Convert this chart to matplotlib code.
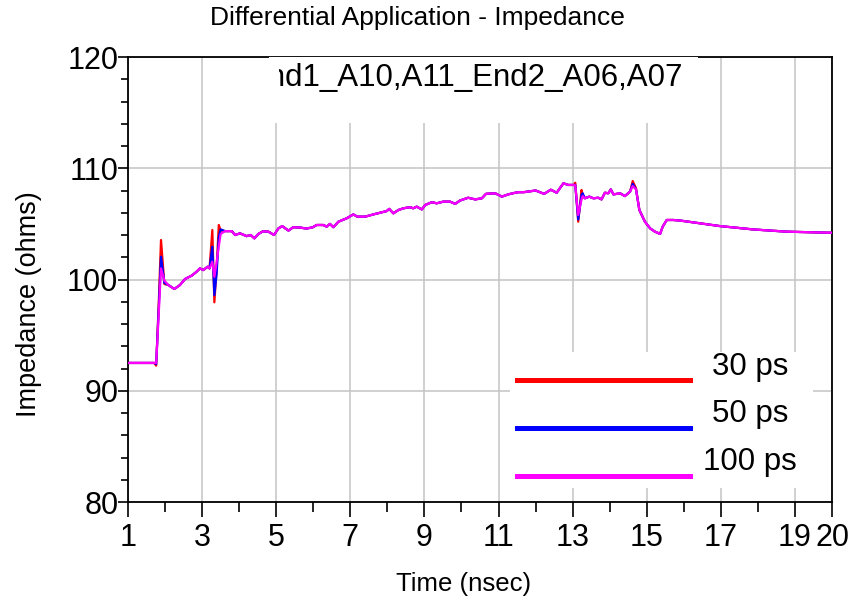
import matplotlib
matplotlib.use("Agg")
import matplotlib.pyplot as plt
from matplotlib.lines import Line2D
from matplotlib.patches import Rectangle
from matplotlib.transforms import Bbox, TransformedBbox
from matplotlib.ticker import MultipleLocator, FixedLocator

plt.rcParams['font.family'] = ['Liberation Sans', 'DejaVu Sans']

# time axis (nsec) shared by the three rise-time runs
t = [1.00, 1.71, 1.76, 1.83, 1.89, 1.98, 2.09, 2.25, 2.40, 2.54,
     2.72, 2.85, 2.94, 3.03, 3.15, 3.20, 3.275, 3.33, 3.39, 3.45,
     3.50, 3.62, 3.80, 3.89, 4.02, 4.20, 4.31, 4.41, 4.52, 4.64,
     4.79, 4.94, 5.06, 5.16, 5.33, 5.46, 5.64, 5.82, 5.99, 6.09,
     6.27, 6.36, 6.45, 6.54, 6.68, 6.90, 7.08, 7.19, 7.40, 7.62,
     7.80, 7.98, 8.05, 8.16, 8.30, 8.43, 8.61, 8.70, 8.79, 8.93,
     9.02, 9.20, 9.33, 9.51, 9.69, 9.83, 9.96, 10.18, 10.37, 10.55,
     10.66, 10.91, 11.09, 11.26, 11.41, 11.53, 11.68, 12.00, 12.23, 12.41,
     12.57, 12.75, 12.88, 13.04, 13.07, 13.15, 13.24, 13.27, 13.33, 13.45,
     13.56, 13.69, 13.78, 13.87, 13.96, 14.03, 14.10, 14.28, 14.41, 14.55,
     14.62, 14.71, 14.80, 14.95, 15.09, 15.22, 15.36, 15.43, 15.54, 15.72,
     15.90, 16.98, 17.88, 18.78, 20.00]

z_30ps = [92.5, 92.5, 92.25, 98.0, 103.55, 99.6, 99.5, 99.15, 99.5, 100.05,
          100.35, 100.7, 101.0, 100.85, 101.15, 101.0, 104.45, 97.95, 101.0, 104.9,
          104.4, 104.35, 104.35, 104.0, 104.15, 103.9, 104.0, 103.7, 104.1, 104.33,
          104.3, 104.0, 104.6, 104.8, 104.4, 104.7, 104.67, 104.58, 104.7, 104.9,
          104.9, 104.75, 105.0, 104.7, 105.2, 105.5, 105.85, 105.65, 105.65, 105.85,
          106.0, 106.15, 106.35, 105.95, 106.25, 106.4, 106.5, 106.4, 106.55, 106.3,
          106.7, 106.95, 106.85, 107.0, 107.0, 106.8, 107.1, 107.35, 107.2, 107.3,
          107.7, 107.75, 107.45, 107.65, 107.77, 107.85, 107.85, 108.0, 107.7, 108.07,
          107.8, 108.65, 108.5, 108.5, 108.7, 105.2, 108.05, 107.6, 107.3, 107.45,
          107.3, 107.35, 107.2, 107.8, 107.75, 108.1, 107.65, 107.75, 107.5, 107.9,
          108.85, 108.2, 106.25, 105.2, 104.6, 104.3, 104.1, 104.75, 105.35, 105.35,
          105.3, 104.8, 104.5, 104.3, 104.2]

z_50ps = [92.5, 92.5, 92.4, 97.5, 102.05, 99.7, 99.5, 99.15, 99.5, 100.05,
          100.35, 100.7, 101.0, 100.85, 101.15, 101.0, 102.95, 98.6, 100.5, 103.8,
          104.5, 104.35, 104.35, 104.0, 104.15, 103.9, 104.0, 103.7, 104.1, 104.33,
          104.3, 104.0, 104.6, 104.8, 104.4, 104.7, 104.67, 104.58, 104.7, 104.9,
          104.9, 104.75, 105.0, 104.7, 105.2, 105.5, 105.85, 105.65, 105.65, 105.85,
          106.0, 106.15, 106.35, 105.95, 106.25, 106.4, 106.5, 106.4, 106.55, 106.3,
          106.7, 106.95, 106.85, 107.0, 107.0, 106.8, 107.1, 107.35, 107.2, 107.3,
          107.7, 107.75, 107.45, 107.65, 107.77, 107.85, 107.85, 108.0, 107.7, 108.07,
          107.8, 108.65, 108.5, 108.5, 108.5, 105.4, 107.6, 107.75, 107.3, 107.45,
          107.3, 107.35, 107.2, 107.8, 107.75, 108.1, 107.65, 107.75, 107.5, 107.9,
          108.6, 108.1, 106.25, 105.2, 104.6, 104.3, 104.1, 104.75, 105.35, 105.35,
          105.3, 104.8, 104.5, 104.3, 104.2]

z_100ps = [92.5, 92.5, 92.5, 97.0, 101.0, 99.9, 99.5, 99.15, 99.5, 100.05,
           100.35, 100.7, 101.0, 100.85, 101.15, 101.0, 101.6, 100.25, 101.5, 103.0,
           104.1, 104.35, 104.35, 104.0, 104.15, 103.9, 104.0, 103.7, 104.1, 104.33,
           104.3, 104.0, 104.6, 104.8, 104.4, 104.7, 104.67, 104.58, 104.7, 104.9,
           104.9, 104.75, 105.0, 104.7, 105.2, 105.5, 105.85, 105.65, 105.65, 105.85,
           106.0, 106.15, 106.35, 105.95, 106.25, 106.4, 106.5, 106.4, 106.55, 106.3,
           106.7, 106.95, 106.85, 107.0, 107.0, 106.8, 107.1, 107.35, 107.2, 107.3,
           107.7, 107.75, 107.45, 107.65, 107.77, 107.85, 107.85, 108.0, 107.7, 108.07,
           107.8, 108.65, 108.5, 108.5, 108.45, 105.8, 107.2, 107.5, 107.3, 107.45,
           107.3, 107.35, 107.2, 107.8, 107.75, 108.1, 107.65, 107.75, 107.5, 107.9,
           108.4, 108.1, 106.25, 105.2, 104.6, 104.3, 104.1, 104.75, 105.35, 105.35,
           105.3, 104.8, 104.5, 104.3, 104.2]

labels = ['30 ps', '50 ps', '100 ps']
colors = ['#ff0000', '#0000ff', '#ff00ff']
x_ticks = [1, 3, 5, 7, 9, 11, 13, 15, 17, 19, 20]

fig = plt.figure(figsize=(8.49, 6.02), dpi=100)
ax = fig.add_axes([0.1508, 0.1661, 0.8292, 0.7392])

for z, c in zip([z_30ps, z_50ps, z_100ps], colors):
    ax.plot(t, z, color=c, lw=1.6, zorder=3)

ax.set_xlim(1, 20)
ax.set_ylim(80, 120)
ax.xaxis.set_major_locator(FixedLocator(x_ticks))
ax.xaxis.set_minor_locator(FixedLocator(range(2, 19, 2)))
ax.yaxis.set_major_locator(MultipleLocator(10))
ax.yaxis.set_minor_locator(MultipleLocator(2))
ax.grid(True, which='major', color='#c4c4c4', lw=1.1)
ax.set_axisbelow(True)

ax.tick_params(axis='both', which='both', direction='out', labelsize=22,
               width=1.2, colors='black')
ax.tick_params(axis='x', which='major', length=11, pad=4)
ax.tick_params(axis='x', which='minor', length=7)
ax.tick_params(axis='y', which='major', length=7, pad=0)
ax.tick_params(axis='y', which='minor', length=5)
for s in ax.spines.values():
    s.set_linewidth(1.3)

ax.set_xlabel('Time (nsec)', fontsize=18.5)
ax.xaxis.set_label_coords(0.476, -0.158)
ax.set_ylabel('Impedance (ohms)', fontsize=19.5)
ax.yaxis.set_label_coords(-0.122, 0.445)
fig.text(0.492, 0.970, 'Differential Application - Impedance',
         fontsize=19, ha='center', va='center')

# net name box at the top of the plot, clipped on the left
ax.add_patch(Rectangle((0.2, 0.852), 0.61, 0.148, transform=ax.transAxes,
                       facecolor='white', edgecolor='none', zorder=4))
net = ax.text(0.788, 0.953, 'End1_A10,A11_End2_A06,A07', transform=ax.transAxes,
              fontsize=22.5, ha='right', va='center', zorder=5)
net.set_clip_box(TransformedBbox(Bbox([[0.214, 0.0], [1.0, 1.0]]), ax.transAxes))
net.set_clip_on(True)

# legend panel
ax.add_patch(Rectangle((0.5426, 0.0315), 0.43, 0.3055, transform=ax.transAxes,
                       facecolor='white', edgecolor='none', zorder=4))
for lab, c, yl, yt in zip(labels, colors, [0.274, 0.166, 0.0584],
                          [0.303, 0.198, 0.090]):
    ax.add_artist(Line2D([0.5526, 0.798], [yl, yl], transform=ax.transAxes,
                         color=c, lw=3.6, zorder=5))
    ax.text(0.8835, yt, lab, transform=ax.transAxes, fontsize=22.5,
            ha='center', va='center', zorder=5)

fig.savefig('out.png', dpi=100)
